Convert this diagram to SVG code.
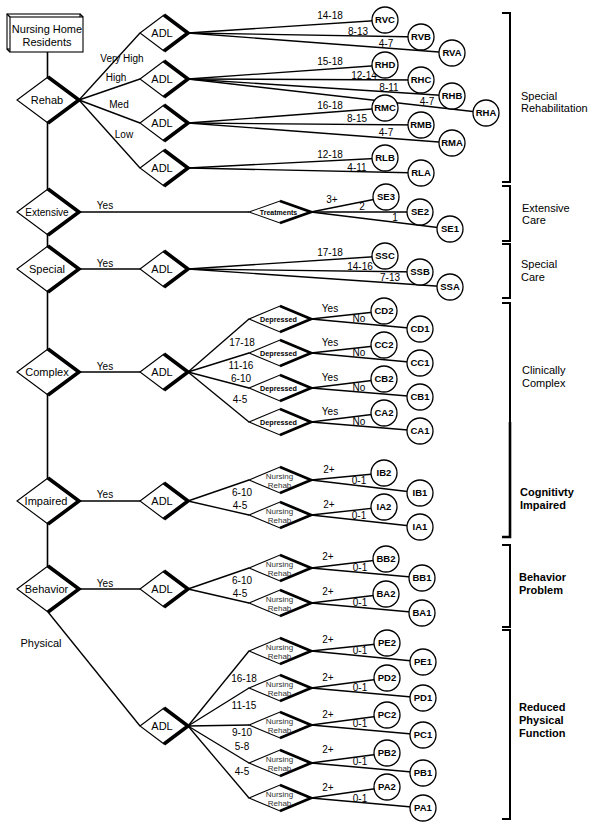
<svg xmlns="http://www.w3.org/2000/svg" width="595" height="830" viewBox="0 0 595 830">
<style>
.ln{stroke:#000;stroke-width:1.35;fill:none}
.trunk{stroke:#000;stroke-width:1.6;fill:none}
.dm{fill:#fff;stroke:#000;stroke-width:1.1}
.sh{fill:none;stroke:#000;stroke-width:3.6;stroke-linejoin:miter;stroke-miterlimit:10}
.shs{fill:none;stroke:#000;stroke-width:2.8;stroke-linejoin:miter;stroke-miterlimit:10}
.cr{fill:#fff;stroke:#000;stroke-width:1.3}
.bx{fill:#fff;stroke:#000;stroke-width:1.1}
text{font-family:"Liberation Sans",Arial,Helvetica,sans-serif;fill:#000}
.ct{font-size:9.5px;font-weight:bold;text-anchor:middle}
.el{font-size:10px;text-anchor:middle}
.dl{font-size:11px;text-anchor:middle}
.sd{font-size:7.2px;font-weight:bold;text-anchor:middle}
.nr{font-size:8px;text-anchor:middle;fill:#333}
.bl{font-size:11px}
.bb{font-size:11px;font-weight:bold}
.br{stroke:#000;stroke-width:2;fill:none}
</style>
<defs>
<g id="dBig"><polygon class="dm" points="-31,0 0,-23 31,0 0,23"/><polyline class="sh" points="0,-23 31,0 0,23"/></g>
<g id="dAdl"><polygon class="dm" points="-24,0 0,-18 24,0 0,18"/><polyline class="sh" points="0,-18 24,0 0,18"/></g>
<g id="dSm"><polygon class="dm" points="-31,0 0,-13 31,0 0,13"/><polyline class="shs" points="0,-13 31,0 0,13"/></g>
<g id="dTr"><polygon class="dm" points="-31,0 0,-11 31,0 0,11"/><polyline class="shs" points="0,-11 31,0 0,11"/></g>
<circle id="cir" r="13" class="cr"/>
</defs>

<g id="connectors" class="ln">
<path class="trunk" d="M47.5 52 V566"/>
<line x1="79" y1="100" x2="140" y2="33"/>
<line x1="79" y1="100" x2="140" y2="79"/>
<line x1="79" y1="100" x2="140" y2="123"/>
<line x1="79" y1="100" x2="140" y2="168"/>
<line x1="188" y1="33" x2="385" y2="20"/>
<line x1="188" y1="33" x2="421" y2="37"/>
<line x1="188" y1="33" x2="452" y2="53"/>
<line x1="188" y1="79" x2="385" y2="65"/>
<line x1="188" y1="79" x2="421" y2="80"/>
<line x1="188" y1="79" x2="452" y2="96"/>
<line x1="188" y1="79" x2="486" y2="113"/>
<line x1="188" y1="123" x2="385" y2="108"/>
<line x1="188" y1="123" x2="421" y2="125"/>
<line x1="188" y1="123" x2="452" y2="143"/>
<line x1="188" y1="168" x2="385" y2="158"/>
<line x1="188" y1="168" x2="421" y2="173"/>
<line x1="79" y1="212" x2="249" y2="212"/>
<line x1="311" y1="212" x2="386" y2="197"/>
<line x1="311" y1="212" x2="420" y2="212"/>
<line x1="311" y1="212" x2="450" y2="229"/>
<line x1="79" y1="269" x2="140" y2="269"/>
<line x1="188" y1="269" x2="385" y2="256"/>
<line x1="188" y1="269" x2="420" y2="272"/>
<line x1="188" y1="269" x2="450" y2="287"/>
<line x1="79" y1="372" x2="140" y2="372"/>
<line x1="188" y1="372" x2="249" y2="319"/>
<line x1="188" y1="372" x2="249" y2="353"/>
<line x1="188" y1="372" x2="249" y2="388"/>
<line x1="188" y1="372" x2="249" y2="422"/>
<line x1="311" y1="319" x2="384" y2="311"/>
<line x1="311" y1="319" x2="420" y2="329"/>
<line x1="311" y1="353" x2="384" y2="345"/>
<line x1="311" y1="353" x2="420" y2="363"/>
<line x1="311" y1="388" x2="384" y2="379"/>
<line x1="311" y1="388" x2="420" y2="397"/>
<line x1="311" y1="422" x2="384" y2="413"/>
<line x1="311" y1="422" x2="420" y2="431"/>
<line x1="79" y1="501" x2="140" y2="501"/>
<line x1="188" y1="501" x2="249" y2="480"/>
<line x1="188" y1="501" x2="249" y2="515"/>
<line x1="311" y1="480" x2="384" y2="473"/>
<line x1="311" y1="480" x2="420" y2="493"/>
<line x1="311" y1="515" x2="384" y2="507"/>
<line x1="311" y1="515" x2="420" y2="527"/>
<line x1="79" y1="589" x2="140" y2="589"/>
<line x1="188" y1="589" x2="249" y2="568"/>
<line x1="188" y1="589" x2="249" y2="603"/>
<line x1="311" y1="568" x2="386" y2="559"/>
<line x1="311" y1="568" x2="422" y2="578"/>
<line x1="311" y1="603" x2="386" y2="594"/>
<line x1="311" y1="603" x2="422" y2="613"/>
<line x1="48" y1="612" x2="140" y2="726"/>
<line x1="188" y1="726" x2="249" y2="651"/>
<line x1="188" y1="726" x2="249" y2="688"/>
<line x1="188" y1="726" x2="249" y2="725"/>
<line x1="188" y1="726" x2="249" y2="763"/>
<line x1="188" y1="726" x2="249" y2="798"/>
<line x1="311" y1="651" x2="387" y2="643"/>
<line x1="311" y1="651" x2="423" y2="662"/>
<line x1="311" y1="688" x2="387" y2="678"/>
<line x1="311" y1="688" x2="423" y2="698"/>
<line x1="311" y1="725" x2="387" y2="715"/>
<line x1="311" y1="725" x2="423" y2="735"/>
<line x1="311" y1="763" x2="387" y2="753"/>
<line x1="311" y1="763" x2="423" y2="773"/>
<line x1="311" y1="798" x2="387" y2="787"/>
<line x1="311" y1="798" x2="423" y2="808"/>
</g>

<g id="edge-labels" class="el">
<text x="122" y="62">Very High</text>
<text x="116" y="81">High</text>
<text x="119" y="108">Med</text>
<text x="124" y="138">Low</text>
<text x="330" y="19">14-18</text>
<text x="358" y="34.5">8-13</text>
<text x="386" y="46.5">4-7</text>
<text x="330" y="65">15-18</text>
<text x="364" y="78.5">12-14</text>
<text x="389" y="90.5">8-11</text>
<text x="427" y="104.5">4-7</text>
<text x="330" y="109">16-18</text>
<text x="357" y="121.5">8-15</text>
<text x="386" y="135.5">4-7</text>
<text x="330" y="157.5">12-18</text>
<text x="357" y="170.5">4-11</text>
<text x="105" y="209">Yes</text>
<text x="332" y="203">3+</text>
<text x="362" y="210">2</text>
<text x="395" y="221">1</text>
<text x="105" y="267">Yes</text>
<text x="330" y="255.5">17-18</text>
<text x="360" y="270">14-16</text>
<text x="390" y="281">7-13</text>
<text x="105" y="370">Yes</text>
<text x="242" y="346">17-18</text>
<text x="241" y="369">11-16</text>
<text x="241" y="382">6-10</text>
<text x="240" y="403">4-5</text>
<text x="330" y="312">Yes</text><text x="359" y="322">No</text>
<text x="330" y="346">Yes</text><text x="359" y="356">No</text>
<text x="330" y="381">Yes</text><text x="359" y="391">No</text>
<text x="330" y="415">Yes</text><text x="359" y="425">No</text>
<text x="105" y="498">Yes</text>
<text x="242" y="496">6-10</text>
<text x="240" y="509">4-5</text>
<text x="329" y="473">2+</text><text x="359" y="484">0-1</text>
<text x="329" y="508">2+</text><text x="359" y="519">0-1</text>
<text x="105" y="587">Yes</text>
<text x="242" y="584">6-10</text>
<text x="240" y="597">4-5</text>
<text x="328" y="560">2+</text><text x="360" y="571">0-1</text>
<text x="328" y="595">2+</text><text x="360" y="606">0-1</text>
<text x="41" y="647" style="font-size:11px">Physical</text>
<text x="244" y="682">16-18</text>
<text x="244" y="709">11-15</text>
<text x="242" y="736">9-10</text>
<text x="242" y="750">5-8</text>
<text x="242" y="775">4-5</text>
<text x="328" y="643">2+</text><text x="360" y="654">0-1</text>
<text x="328" y="681">2+</text><text x="360" y="691">0-1</text>
<text x="328" y="718">2+</text><text x="360" y="727">0-1</text>
<text x="328" y="753">2+</text><text x="360" y="765">0-1</text>
<text x="328" y="791">2+</text><text x="360" y="802">0-1</text>
</g>

<g id="residents">
<rect class="bx" x="7" y="14" width="73" height="35"/>
<line class="ln" x1="7" y1="14" x2="10" y2="17"/><line class="ln" x1="80" y1="14" x2="83" y2="17"/><line class="ln" x1="7" y1="49" x2="10" y2="52"/>
<rect class="bx" x="10" y="17" width="73" height="35"/>
<text class="dl" x="47" y="33">Nursing Home</text>
<text class="dl" x="47" y="46">Residents</text>
</g>
<g id="rehab"><use href="#dBig" x="48" y="100"/><text class="dl" x="47" y="104">Rehab</text></g>
<g id="extensive"><use href="#dBig" x="48" y="212"/><text class="dl" x="47" y="215.5" style="font-size:10px">Extensive</text></g>
<g id="special"><use href="#dBig" x="48" y="269"/><text class="dl" x="47" y="273">Special</text></g>
<g id="complex"><use href="#dBig" x="48" y="372"/><text class="dl" x="47" y="376">Complex</text></g>
<g id="impaired"><use href="#dBig" x="48" y="501"/><text class="dl" x="46" y="505">Impaired</text></g>
<g id="behavior"><use href="#dBig" x="48" y="589"/><text class="dl" x="46.5" y="593">Behavior</text></g>

<g id="adl-vh"><use href="#dAdl" x="164" y="33"/><text class="dl" x="162" y="37">ADL</text></g>
<g id="adl-h"><use href="#dAdl" x="164" y="79"/><text class="dl" x="162" y="83">ADL</text></g>
<g id="adl-m"><use href="#dAdl" x="164" y="123"/><text class="dl" x="162" y="127">ADL</text></g>
<g id="adl-l"><use href="#dAdl" x="164" y="168"/><text class="dl" x="162" y="172">ADL</text></g>
<g id="adl-special"><use href="#dAdl" x="164" y="269"/><text class="dl" x="162" y="273">ADL</text></g>
<g id="adl-complex"><use href="#dAdl" x="164" y="372"/><text class="dl" x="162" y="376">ADL</text></g>
<g id="adl-impaired"><use href="#dAdl" x="164" y="501"/><text class="dl" x="162" y="505">ADL</text></g>
<g id="adl-behavior"><use href="#dAdl" x="164" y="589"/><text class="dl" x="162" y="593">ADL</text></g>
<g id="adl-physical"><use href="#dAdl" x="164" y="726"/><text class="dl" x="162" y="730">ADL</text></g>

<g id="treatments"><use href="#dTr" x="280" y="212"/><text class="sd" x="278.5" y="214.5" style="font-size:7px">Treatments</text></g>
<g id="dep-d"><use href="#dSm" x="280" y="319"/><text class="sd" x="278.5" y="321.5">Depressed</text></g>
<g id="dep-c"><use href="#dSm" x="280" y="353"/><text class="sd" x="278.5" y="355.5">Depressed</text></g>
<g id="dep-b"><use href="#dSm" x="280" y="388"/><text class="sd" x="278.5" y="390.5">Depressed</text></g>
<g id="dep-a"><use href="#dSm" x="280" y="422"/><text class="sd" x="278.5" y="424.5">Depressed</text></g>
<g id="nr-ib"><use href="#dSm" x="280" y="480"/><text class="nr" x="279.5" y="478.5">Nursing</text><text class="nr" x="279.5" y="488">Rehab</text></g>
<g id="nr-ia"><use href="#dSm" x="280" y="515"/><text class="nr" x="279.5" y="513.5">Nursing</text><text class="nr" x="279.5" y="523">Rehab</text></g>
<g id="nr-bb"><use href="#dSm" x="280" y="568"/><text class="nr" x="279.5" y="566.5">Nursing</text><text class="nr" x="279.5" y="576">Rehab</text></g>
<g id="nr-ba"><use href="#dSm" x="280" y="603"/><text class="nr" x="279.5" y="601.5">Nursing</text><text class="nr" x="279.5" y="611">Rehab</text></g>
<g id="nr-pe"><use href="#dSm" x="280" y="651"/><text class="nr" x="279.5" y="649.5">Nursing</text><text class="nr" x="279.5" y="659">Rehab</text></g>
<g id="nr-pd"><use href="#dSm" x="280" y="688"/><text class="nr" x="279.5" y="686.5">Nursing</text><text class="nr" x="279.5" y="696">Rehab</text></g>
<g id="nr-pc"><use href="#dSm" x="280" y="725"/><text class="nr" x="279.5" y="723.5">Nursing</text><text class="nr" x="279.5" y="733">Rehab</text></g>
<g id="nr-pb"><use href="#dSm" x="280" y="763"/><text class="nr" x="279.5" y="761.5">Nursing</text><text class="nr" x="279.5" y="771">Rehab</text></g>
<g id="nr-pa"><use href="#dSm" x="280" y="798"/><text class="nr" x="279.5" y="796.5">Nursing</text><text class="nr" x="279.5" y="806">Rehab</text></g>

<g id="RVC"><use href="#cir" x="385" y="20"/><text class="ct" x="385" y="23.4">RVC</text></g>
<g id="RVB"><use href="#cir" x="421" y="37"/><text class="ct" x="421" y="40.4">RVB</text></g>
<g id="RVA"><use href="#cir" x="452" y="53"/><text class="ct" x="452" y="56.4">RVA</text></g>
<g id="RHD"><use href="#cir" x="385" y="65"/><text class="ct" x="385" y="68.4">RHD</text></g>
<g id="RHC"><use href="#cir" x="421" y="80"/><text class="ct" x="421" y="83.4">RHC</text></g>
<g id="RHB"><use href="#cir" x="452" y="96"/><text class="ct" x="452" y="99.4">RHB</text></g>
<g id="RHA"><use href="#cir" x="486" y="113"/><text class="ct" x="486" y="116.4">RHA</text></g>
<g id="RMC"><use href="#cir" x="385" y="108"/><text class="ct" x="385" y="111.4">RMC</text></g>
<g id="RMB"><use href="#cir" x="421" y="125"/><text class="ct" x="421" y="128.4">RMB</text></g>
<g id="RMA"><use href="#cir" x="452" y="143"/><text class="ct" x="452" y="146.4">RMA</text></g>
<g id="RLB"><use href="#cir" x="385" y="158"/><text class="ct" x="385" y="161.4">RLB</text></g>
<g id="RLA"><use href="#cir" x="421" y="173"/><text class="ct" x="421" y="176.4">RLA</text></g>
<g id="SE3"><use href="#cir" x="386" y="197"/><text class="ct" x="386" y="200.4">SE3</text></g>
<g id="SE2"><use href="#cir" x="420" y="212"/><text class="ct" x="420" y="215.4">SE2</text></g>
<g id="SE1"><use href="#cir" x="450" y="229"/><text class="ct" x="450" y="232.4">SE1</text></g>
<g id="SSC"><use href="#cir" x="385" y="256"/><text class="ct" x="385" y="259.4">SSC</text></g>
<g id="SSB"><use href="#cir" x="420" y="272"/><text class="ct" x="420" y="275.4">SSB</text></g>
<g id="SSA"><use href="#cir" x="450" y="287"/><text class="ct" x="450" y="290.4">SSA</text></g>
<g id="CD2"><use href="#cir" x="384" y="311"/><text class="ct" x="384" y="314.4">CD2</text></g>
<g id="CD1"><use href="#cir" x="420" y="329"/><text class="ct" x="420" y="332.4">CD1</text></g>
<g id="CC2"><use href="#cir" x="384" y="345"/><text class="ct" x="384" y="348.4">CC2</text></g>
<g id="CC1"><use href="#cir" x="420" y="363"/><text class="ct" x="420" y="366.4">CC1</text></g>
<g id="CB2"><use href="#cir" x="384" y="379"/><text class="ct" x="384" y="382.4">CB2</text></g>
<g id="CB1"><use href="#cir" x="420" y="397"/><text class="ct" x="420" y="400.4">CB1</text></g>
<g id="CA2"><use href="#cir" x="384" y="413"/><text class="ct" x="384" y="416.4">CA2</text></g>
<g id="CA1"><use href="#cir" x="420" y="431"/><text class="ct" x="420" y="434.4">CA1</text></g>
<g id="IB2"><use href="#cir" x="384" y="473"/><text class="ct" x="384" y="476.4">IB2</text></g>
<g id="IB1"><use href="#cir" x="420" y="493"/><text class="ct" x="420" y="496.4">IB1</text></g>
<g id="IA2"><use href="#cir" x="384" y="507"/><text class="ct" x="384" y="510.4">IA2</text></g>
<g id="IA1"><use href="#cir" x="420" y="527"/><text class="ct" x="420" y="530.4">IA1</text></g>
<g id="BB2"><use href="#cir" x="386" y="559"/><text class="ct" x="386" y="562.4">BB2</text></g>
<g id="BB1"><use href="#cir" x="422" y="578"/><text class="ct" x="422" y="581.4">BB1</text></g>
<g id="BA2"><use href="#cir" x="386" y="594"/><text class="ct" x="386" y="597.4">BA2</text></g>
<g id="BA1"><use href="#cir" x="422" y="613"/><text class="ct" x="422" y="616.4">BA1</text></g>
<g id="PE2"><use href="#cir" x="387" y="643"/><text class="ct" x="387" y="646.4">PE2</text></g>
<g id="PE1"><use href="#cir" x="423" y="662"/><text class="ct" x="423" y="665.4">PE1</text></g>
<g id="PD2"><use href="#cir" x="387" y="678"/><text class="ct" x="387" y="681.4">PD2</text></g>
<g id="PD1"><use href="#cir" x="423" y="698"/><text class="ct" x="423" y="701.4">PD1</text></g>
<g id="PC2"><use href="#cir" x="387" y="715"/><text class="ct" x="387" y="718.4">PC2</text></g>
<g id="PC1"><use href="#cir" x="423" y="735"/><text class="ct" x="423" y="738.4">PC1</text></g>
<g id="PB2"><use href="#cir" x="387" y="753"/><text class="ct" x="387" y="756.4">PB2</text></g>
<g id="PB1"><use href="#cir" x="423" y="773"/><text class="ct" x="423" y="776.4">PB1</text></g>
<g id="PA2"><use href="#cir" x="387" y="787"/><text class="ct" x="387" y="790.4">PA2</text></g>
<g id="PA1"><use href="#cir" x="423" y="808"/><text class="ct" x="423" y="811.4">PA1</text></g>

<g id="brackets">
<path class="br" d="M502 13 H510 V182 H502"/>
<path class="br" d="M502 186 H510 V241 H502"/>
<path class="br" d="M502 244 H510 V298 H502"/>
<path class="br" d="M502 303 H510 V422"/>
<path class="br" d="M510 422 V537 H502" style="stroke-width:2.6"/>
<path class="br" d="M502 545 H510 V627 H502"/>
<path class="br" d="M502 630 H510 V819 H502"/>
<text class="bl" x="521" y="99.5">Special</text>
<text class="bl" x="521" y="111.5">Rehabilitation</text>
<text class="bl" x="522" y="211.5">Extensive</text>
<text class="bl" x="522" y="224">Care</text>
<text class="bl" x="521" y="268">Special</text>
<text class="bl" x="521" y="281">Care</text>
<text class="bl" x="522" y="374">Clinically</text>
<text class="bl" x="522" y="386.5">Complex</text>
<text class="bb" x="520" y="496">Cognitivty</text>
<text class="bb" x="520" y="509">Impaired</text>
<text class="bb" x="519" y="581">Behavior</text>
<text class="bb" x="519" y="594">Problem</text>
<text class="bb" x="519" y="711">Reduced</text>
<text class="bb" x="519" y="724">Physical</text>
<text class="bb" x="519" y="737">Function</text>
</g>
</svg>
